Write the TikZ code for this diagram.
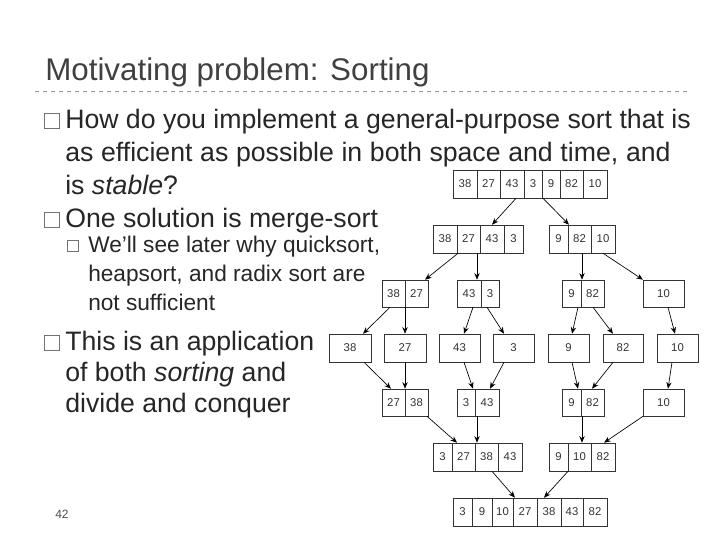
\documentclass[tikz,border=0pt]{standalone}
\usepackage{fontspec}
\setmainfont{Liberation Sans}
\usetikzlibrary{fit,arrows.meta}
\tikzset{
 cellst/.style={draw=black!80,line width=0.6pt},
 numst/.style={font=\fontsize{8.5}{9}\selectfont,text=black!80},
 arr/.style={-{Stealth[length=5pt,width=4pt]},line width=0.5pt},
 boxst/.style={inner sep=0pt},
 txt/.style={anchor=base west,text=black!85,inner sep=0pt},
 bul/.style={draw=black!55,line width=0.7pt,minimum size=11pt,inner sep=0pt},
}
\newcommand\cellrow[4]{%
 \foreach \a/\b/\v in {#4}{\draw[cellst] (\a,#2) rectangle (\b,#3);
  \node[numst] at ({(\a+\b)/2},{(#2+#3)/2}) {\v};}}
\begin{document}
\begin{tikzpicture}[x=0.75pt,y=-0.75pt]
\useasboundingbox (0,0) rectangle (720,540);
\node[txt,font=\fontsize{23.5}{26}\selectfont,text=black!75] (title) at (45,80) {Motivating problem: Sorting};
\draw[dashed,black!40,line width=0.5pt] (35,91) -- (690,91);
\begin{scope}[font=\fontsize{20}{23}\selectfont]
\node[bul] (b1) at (52,121) {};
\node[txt] (t1) at (65,128) {How do you implement a general-purpose sort that is};
\node[txt] (t2) at (65,161) {\makebox[454pt][s]{as efficient as possible in both space and time, and}};
\node[txt] (t3) at (65,194) {is \textit{stable}?};
\node[bul] (b2) at (52,220) {};
\node[txt] (t4) at (65,227) {One solution is merge-sort};
\node[bul] (b4) at (52,343) {};
\node[txt] (t8) at (65,350) {This is an application};
\node[txt] (t9) at (65,381) {of both \textit{sorting} and};
\node[txt] (t10) at (65,412) {divide and conquer};
\end{scope}
\begin{scope}[font=\fontsize{17}{20}\selectfont]
\node[bul,minimum size=8pt] (b3) at (73,246) {};
\node[txt] (t5) at (88,252) {We'll see later why quicksort,};
\node[txt] (t6) at (88,281) {heapsort, and radix sort are};
\node[txt] (t7) at (88,310) {not sufficient};
\end{scope}
\node[txt,font=\fontsize{9}{10}\selectfont,text=black!70] (pg) at (55,518) {42};
% rows
\cellrow{r1}{170}{198}{453/477/38,477/500/27,500/524/43,524/542/3,542/560/9,560/583/82,583/607/10}
\node[boxst,fit={(453,170) (607,198)}] (r1) {};
\cellrow{}{225}{253}{433/457/38,457/480/27,480/504/43,504/523/3}
\node[boxst,fit={(433,225) (523,253)}] (r2a) {};
\cellrow{}{225}{253}{549/568/9,568/591/82,591/615/10}
\node[boxst,fit={(549,225) (615,253)}] (r2b) {};
\cellrow{}{280}{307}{382/405/38,405/428/27}
\node[boxst,fit={(382,280) (428,307)}] (r3a) {};
\cellrow{}{280}{307}{457/481/43,481/499/3}
\node[boxst,fit={(457,280) (499,307)}] (r3b) {};
\cellrow{}{280}{307}{562/581/9,581/604/82}
\node[boxst,fit={(562,280) (604,307)}] (r3c) {};
\cellrow{}{280}{307}{643/684/10}
\node[boxst,fit={(643,280) (684,307)}] (r3d) {};
\cellrow{}{334}{362}{329/371/38}\node[boxst,fit={(329,334) (371,362)}] (r4a) {};
\cellrow{}{334}{362}{384/426/27}\node[boxst,fit={(384,334) (426,362)}] (r4b) {};
\cellrow{}{334}{362}{439/480/43}\node[boxst,fit={(439,334) (480,362)}] (r4c) {};
\cellrow{}{334}{362}{493/534/3}\node[boxst,fit={(493,334) (534,362)}] (r4d) {};
\cellrow{}{334}{362}{548/589/9}\node[boxst,fit={(548,334) (589,362)}] (r4e) {};
\cellrow{}{334}{362}{603/643/82}\node[boxst,fit={(603,334) (643,362)}] (r4f) {};
\cellrow{}{334}{362}{657/698/10}\node[boxst,fit={(657,334) (698,362)}] (r4g) {};
\cellrow{}{389}{416}{382/405/27,405/428/38}
\node[boxst,fit={(382,389) (428,416)}] (r5a) {};
\cellrow{}{389}{416}{457/475/3,475/499/43}
\node[boxst,fit={(457,389) (499,416)}] (r5b) {};
\cellrow{}{389}{416}{562/581/9,581/604/82}
\node[boxst,fit={(562,389) (604,416)}] (r5c) {};
\cellrow{}{389}{416}{643/684/10}
\node[boxst,fit={(643,389) (684,416)}] (r5d) {};
\cellrow{}{443}{471}{433/452/3,452/475/27,475/498/38,498/522/43}
\node[boxst,fit={(433,443) (522,471)}] (r6a) {};
\cellrow{}{443}{471}{549/568/9,568/591/10,591/615/82}
\node[boxst,fit={(549,443) (615,471)}] (r6b) {};
\cellrow{}{498}{526}{453/472/3,472/492/9,492/513/10,513/537/27,537/561/38,561/583/43,583/607/82}
\node[boxst,fit={(453,498) (607,526)}] (r7) {};
% arrows
\draw[arr] (516,0 |- r1.south) -- (492,0 |- r2a.north);
\draw[arr] (543,0 |- r1.south) -- (569,0 |- r2b.north);
\draw[arr] (458,0 |- r2a.south) -- (425,0 |- r3a.north);
\draw[arr] (477,0 |- r2a.south) -- (477,0 |- r3b.north);
\draw[arr] (582,0 |- r2b.south) -- (582,0 |- r3c.north);
\draw[arr] (603,0 |- r2b.south) -- (643,0 |- r3d.north);
\draw[arr] (390,0 |- r3a.south) -- (363,0 |- r4a.north);
\draw[arr] (405,0 |- r3a.south) -- (405,0 |- r4b.north);
\draw[arr] (473,0 |- r3b.south) -- (464,0 |- r4c.north);
\draw[arr] (487,0 |- r3b.south) -- (504,0 |- r4d.north);
\draw[arr] (578,0 |- r3c.south) -- (572,0 |- r4e.north);
\draw[arr] (593,0 |- r3c.south) -- (613,0 |- r4f.north);
\draw[arr] (668,0 |- r3d.south) -- (675,0 |- r4g.north);
\draw[arr] (364,0 |- r4a.south) -- (391,0 |- r5a.north);
\draw[arr] (405,0 |- r4b.south) -- (405,0 |- r5a.north);
\draw[arr] (464,0 |- r4c.south) -- (473,0 |- r5b.north);
\draw[arr] (504,0 |- r4d.south) -- (490,0 |- r5b.north);
\draw[arr] (572,0 |- r4e.south) -- (578,0 |- r5c.north);
\draw[arr] (613,0 |- r4f.south) -- (592,0 |- r5c.north);
\draw[arr] (672,0 |- r4g.south) -- (668,0 |- r5d.north);
\draw[arr] (427,0 |- r5a.south) -- (457,0 |- r6a.north);
\draw[arr] (477,0 |- r5b.south) -- (477,0 |- r6a.north);
\draw[arr] (582,0 |- r5c.south) -- (582,0 |- r6b.north);
\draw[arr] (643,0 |- r5d.south) -- (604,0 |- r6b.north);
\draw[arr] (492,0 |- r6a.south) -- (515,0 |- r7.north);
\draw[arr] (568,0 |- r6b.south) -- (544,0 |- r7.north);
\end{tikzpicture}
\end{document}
